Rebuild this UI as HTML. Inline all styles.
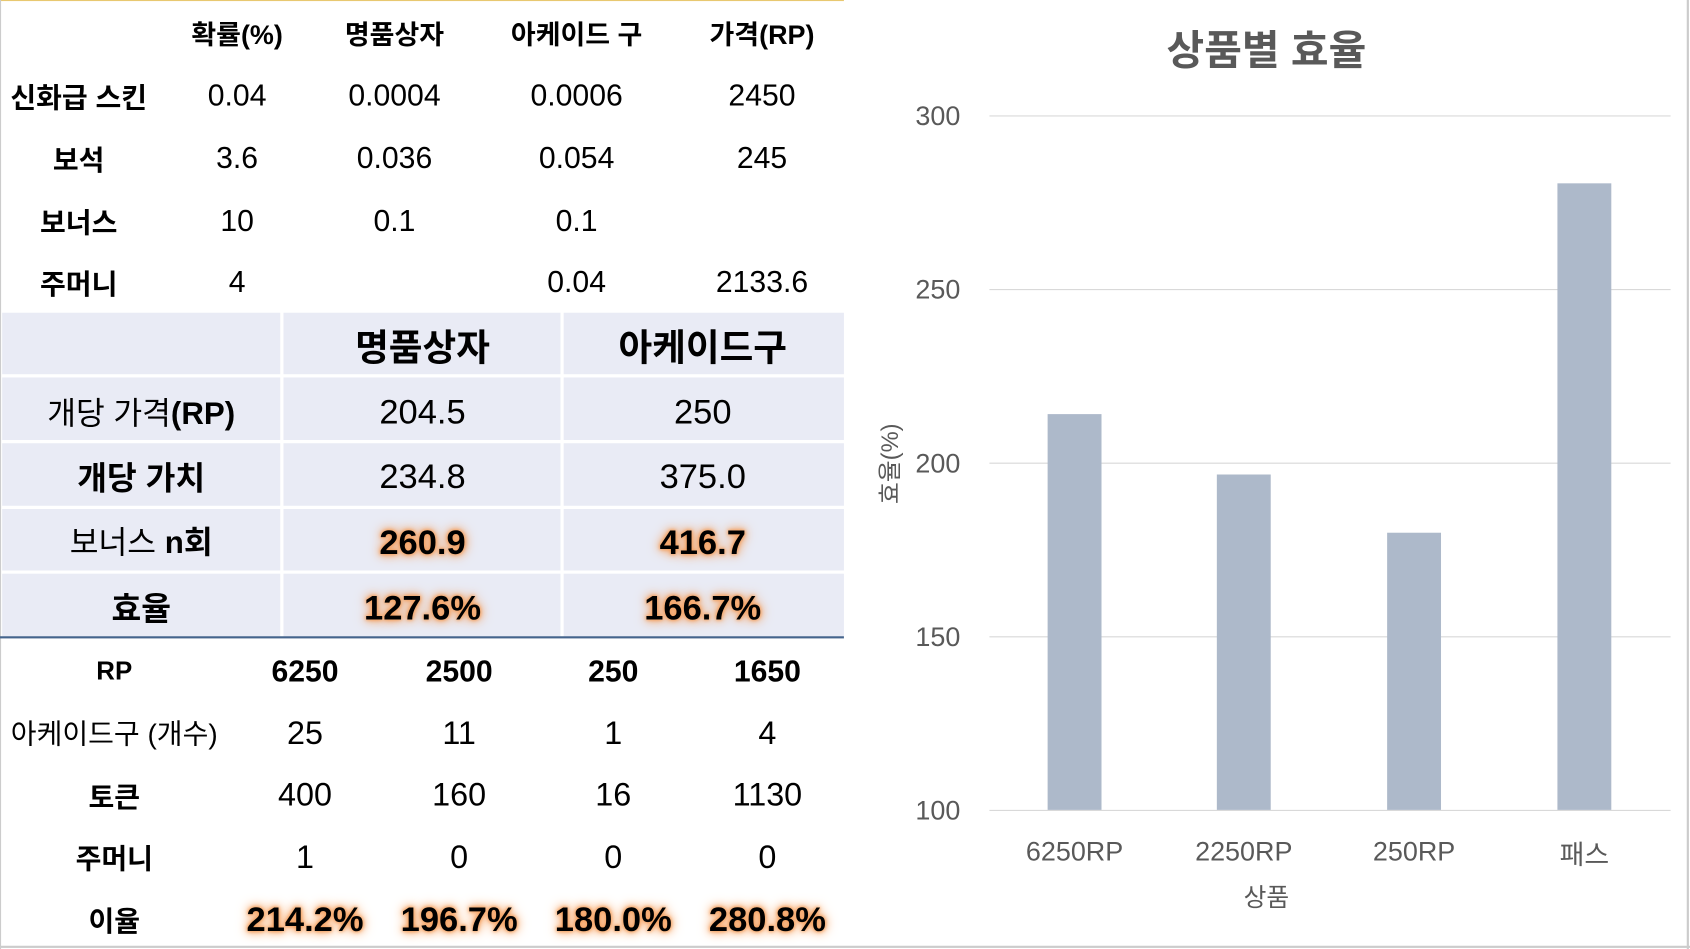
<!DOCTYPE html>
<html><head><meta charset="utf-8"><style>
html,body{margin:0;padding:0;background:#fff;overflow:hidden}
#w{width:1568px;height:880px;position:relative;transform:scale(1.0778,1.0784);transform-origin:0 0;font-family:"Liberation Sans","Noto Sans CJK KR",sans-serif;color:#000}
.t{position:absolute;transform:translate(-50%,-50%);white-space:nowrap}
.b{font-weight:bold}
.g{text-shadow:0 0 4px #f4a060,0 0 8px #f4a060,0 0 12px #f4a060,0 0 3px #f8b070}
.cell{position:absolute;background:#e9ebf5}
</style></head><body><div id="w">
<div style="position:absolute;left:0;top:0;width:783px;height:1px;background:#e8c870"></div>
<div style="position:absolute;left:1565px;top:0;width:2px;height:880px;background:#ccc"></div>
<div style="position:absolute;left:0;top:877px;width:1568px;height:2px;background:#ccc"></div>
<div style="position:absolute;left:0;top:0;width:1px;height:880px;background:#ccc"></div>
<!-- top table -->
<div style="font-size:28px">
<div class="t b" style="left:220px;top:31px;font-size:25px">확률(%)</div>
<div class="t b" style="left:366px;top:31px;font-size:25px">명품상자</div>
<div class="t b" style="left:535px;top:31px;font-size:25px">아케이드 구</div>
<div class="t b" style="left:707px;top:31px;font-size:25px">가격(RP)</div>
<div class="t b" style="left:73px;top:89px;font-size:26px">신화급 스킨</div>
<div class="t" style="left:220px;top:89px">0.04</div><div class="t" style="left:366px;top:89px">0.0004</div><div class="t" style="left:535px;top:89px">0.0006</div><div class="t" style="left:707px;top:89px">2450</div>
<div class="t b" style="left:73px;top:147px;font-size:26px">보석</div>
<div class="t" style="left:220px;top:147px">3.6</div><div class="t" style="left:366px;top:147px">0.036</div><div class="t" style="left:535px;top:147px">0.054</div><div class="t" style="left:707px;top:147px">245</div>
<div class="t b" style="left:73px;top:205px;font-size:26px">보너스</div>
<div class="t" style="left:220px;top:205px">10</div><div class="t" style="left:366px;top:205px">0.1</div><div class="t" style="left:535px;top:205px">0.1</div>
<div class="t b" style="left:73px;top:262px;font-size:26px">주머니</div>
<div class="t" style="left:220px;top:262px">4</div><div class="t" style="left:535px;top:262px">0.04</div><div class="t" style="left:707px;top:262px">2133.6</div>
</div>
<!-- middle table -->
<div class="cell" style="left:2px;top:290px;width:258px;height:57px"></div>
<div class="cell" style="left:263px;top:290px;width:257px;height:57px"></div>
<div class="cell" style="left:523px;top:290px;width:260px;height:57px"></div>
<div class="cell" style="left:2px;top:350px;width:258px;height:58px"></div>
<div class="cell" style="left:263px;top:350px;width:257px;height:58px"></div>
<div class="cell" style="left:523px;top:350px;width:260px;height:58px"></div>
<div class="cell" style="left:2px;top:411px;width:258px;height:58px"></div>
<div class="cell" style="left:263px;top:411px;width:257px;height:58px"></div>
<div class="cell" style="left:523px;top:411px;width:260px;height:58px"></div>
<div class="cell" style="left:2px;top:472px;width:258px;height:57px"></div>
<div class="cell" style="left:263px;top:472px;width:257px;height:57px"></div>
<div class="cell" style="left:523px;top:472px;width:260px;height:57px"></div>
<div class="cell" style="left:2px;top:532px;width:258px;height:58px"></div>
<div class="cell" style="left:263px;top:532px;width:257px;height:58px"></div>
<div class="cell" style="left:523px;top:532px;width:260px;height:58px"></div>
<div style="position:absolute;left:0;top:590px;width:783px;height:2px;background:#44648c"></div>
<div style="font-size:32px">
<div class="t b" style="left:392px;top:320px;font-size:34px">명품상자</div>
<div class="t b" style="left:652px;top:320px;font-size:34px">아케이드구</div>
<div class="t" style="left:131px;top:381px;font-size:29px">개당 가격<b>(RP)</b></div>
<div class="t" style="left:392px;top:382px">204.5</div><div class="t" style="left:652px;top:382px">250</div>
<div class="t b" style="left:131px;top:441px;font-size:30px">개당 가치</div>
<div class="t" style="left:392px;top:442px">234.8</div><div class="t" style="left:652px;top:442px">375.0</div>
<div class="t" style="left:131px;top:501px;font-size:29px">보너스 <b>n회</b></div>
<div class="t b g" style="left:392px;top:503px">260.9</div><div class="t b g" style="left:652px;top:503px">416.7</div>
<div class="t b" style="left:131px;top:562px;font-size:30px">효율</div>
<div class="t b g" style="left:392px;top:564px">127.6%</div><div class="t b g" style="left:652px;top:564px">166.7%</div>
</div>
<!-- bottom table -->
<div style="font-size:30px">
<div class="t b" style="left:106px;top:623px;font-size:24px">RP</div>
<div class="t b" style="left:283px;top:623px;font-size:28px">6250</div><div class="t b" style="left:426px;top:623px;font-size:28px">2500</div><div class="t b" style="left:569px;top:623px;font-size:28px">250</div><div class="t b" style="left:712px;top:623px;font-size:28px">1650</div>
<div class="t" style="left:106px;top:679px;font-size:26px">아케이드구 (개수)</div>
<div class="t" style="left:283px;top:681px">25</div><div class="t" style="left:426px;top:681px">11</div><div class="t" style="left:569px;top:681px">1</div><div class="t" style="left:712px;top:681px">4</div>
<div class="t b" style="left:106px;top:738px;font-size:26px">토큰</div>
<div class="t" style="left:283px;top:738px">400</div><div class="t" style="left:426px;top:738px">160</div><div class="t" style="left:569px;top:738px">16</div><div class="t" style="left:712px;top:738px">1130</div>
<div class="t b" style="left:106px;top:795px;font-size:26px">주머니</div>
<div class="t" style="left:283px;top:796px">1</div><div class="t" style="left:426px;top:796px">0</div><div class="t" style="left:569px;top:796px">0</div><div class="t" style="left:712px;top:796px">0</div>
<div class="t b" style="left:106px;top:853px;font-size:26px">이율</div>
<div class="t b g" style="left:283px;top:853px;font-size:32px">214.2%</div><div class="t b g" style="left:426px;top:853px;font-size:32px">196.7%</div><div class="t b g" style="left:569px;top:853px;font-size:32px">180.0%</div><div class="t b g" style="left:712px;top:853px;font-size:32px">280.8%</div>
</div>
<!-- chart -->
<svg style="position:absolute;left:0;top:0" width="1568" height="880" font-family="Liberation Sans, Noto Sans CJK KR, sans-serif">
<g stroke="#d9d9d9" stroke-width="1">
<line x1="918" x2="1550" y1="107.5" y2="107.5"/><line x1="918" x2="1550" y1="268.5" y2="268.5"/><line x1="918" x2="1550" y1="429.5" y2="429.5"/><line x1="918" x2="1550" y1="590.5" y2="590.5"/><line x1="918" x2="1550" y1="751.5" y2="751.5"/>
</g>
<g fill="#adb9ca">
<rect x="972" y="384" width="50" height="367"/><rect x="1129" y="440" width="50" height="311"/><rect x="1287" y="494" width="50" height="257"/><rect x="1445" y="170" width="50" height="581"/>
</g>
<g fill="#595959" font-size="25" text-anchor="end">
<text x="891" y="116">300</text><text x="891" y="277">250</text><text x="891" y="438">200</text><text x="891" y="599">150</text><text x="891" y="760">100</text>
</g>
<g fill="#595959" font-size="25" text-anchor="middle">
<text x="997" y="798">6250RP</text><text x="1154" y="798">2250RP</text><text x="1312" y="798">250RP</text><text x="1470" y="801">패스</text>
<text x="1175" y="840" font-size="23">상품</text>
<text x="1175" y="60" font-size="38" font-weight="bold">상품별 효율</text>
<text transform="translate(833,430) rotate(-90)" font-size="22">효율(%)</text>
</g>
</svg>
</div></body></html>
